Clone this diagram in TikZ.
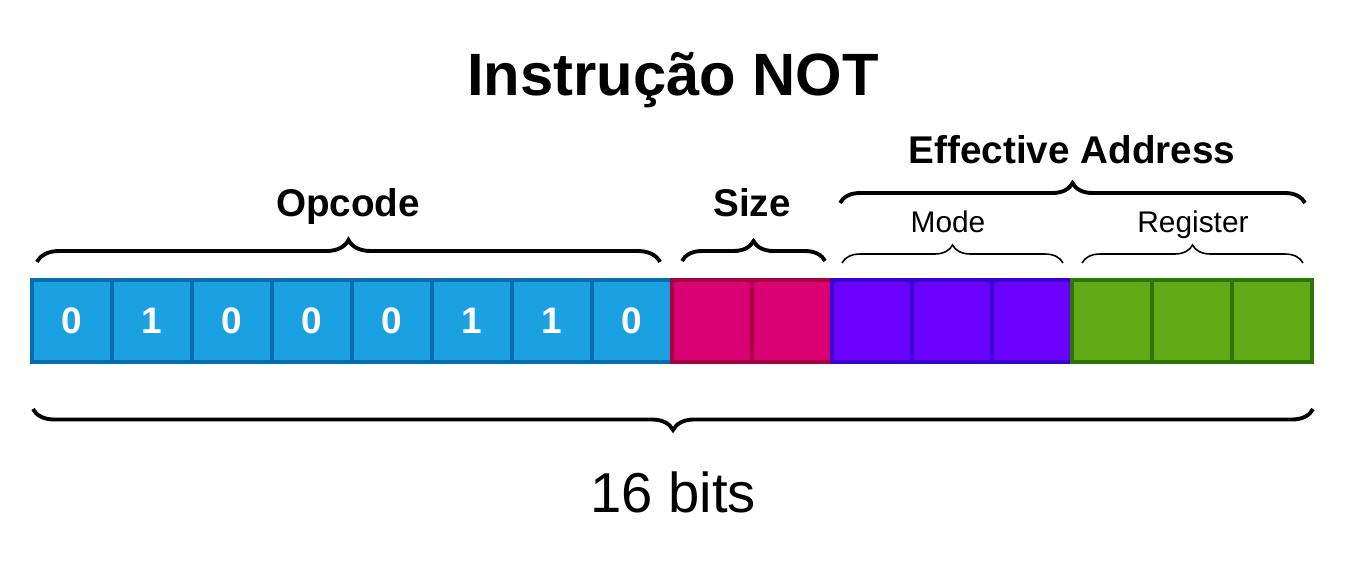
\documentclass[tikz,border=0pt]{standalone}
\usepackage{fontspec}
\setmainfont{Liberation Sans}
\usetikzlibrary{decorations.pathreplacing}

\definecolor{opfill}{HTML}{1BA1E2}
\definecolor{opline}{HTML}{006EAF}
\definecolor{szfill}{HTML}{D80073}
\definecolor{szline}{HTML}{A50040}
\definecolor{mdfill}{HTML}{6A00FF}
\definecolor{mdline}{HTML}{3700CC}
\definecolor{rgfill}{HTML}{60A917}
\definecolor{rgline}{HTML}{2D7600}

\tikzset{
  bitbox/.style={draw, line width=2.2pt, minimum width=1.6cm, minimum height=1.64cm,
    inner sep=0pt, font=\fontsize{21}{25}\selectfont\bfseries, text=white},
  bigbrace/.style={decorate, decoration={brace, amplitude=#1}, line width=2.2pt},
  smallbrace/.style={decorate, decoration={brace, amplitude=#1}, line width=0.9pt},
  fieldlabel/.style={anchor=base, font=\fontsize{22}{26}\selectfont\bfseries},
  sublabel/.style={anchor=base, font=\fontsize{17}{20}\selectfont}
}

\begin{document}
\begin{tikzpicture}[x=0.02cm,y=-0.02cm]
\useasboundingbox (0,0) rectangle (1352,569);

\node[anchor=base, font=\fontsize{34}{40}\selectfont\bfseries] (title) at (673,95) {Instrução NOT};

% the 16 bits
\foreach \i/\v in {0/0,1/1,2/0,3/0,4/0,5/1,6/1,7/0}
  \node[bitbox, fill=opfill, draw=opline] (bit\i) at (72+80*\i,321) {\v};
\foreach \i in {8,9}
  \node[bitbox, fill=szfill, draw=szline] (bit\i) at (72+80*\i,321) {};
\foreach \i in {10,11,12}
  \node[bitbox, fill=mdfill, draw=mdline] (bit\i) at (72+80*\i,321) {};
\foreach \i in {13,14,15}
  \node[bitbox, fill=rgfill, draw=rgline] (bit\i) at (72+80*\i,321) {};

% brace ends
\coordinate (opL) at (37,262);   \coordinate (opR) at (660,262);
\coordinate (szL) at (682,261);  \coordinate (szR) at (825,261);
\coordinate (mdL) at (842,263);  \coordinate (mdR) at (1063,263);
\coordinate (rgL) at (1082,263); \coordinate (rgR) at (1303,263);
\coordinate (eaL) at (840,203);  \coordinate (eaR) at (1305,203);
\coordinate (allL) at (33,409);  \coordinate (allR) at (1313,409);

\draw[bigbrace=0.44cm] (opL) -- (opR);
\draw[bigbrace=0.4cm] (szL) -- (szR);
\draw[smallbrace=0.36cm] (mdL) -- (mdR);
\draw[smallbrace=0.36cm] (rgL) -- (rgR);
\draw[bigbrace=0.4cm] (eaL) -- (eaR);
\draw[bigbrace=0.42cm] (allR) -- (allL);

\node[fieldlabel] (opcode) at (348,216) {Opcode};
\node[fieldlabel] (size) at (752,216) {Size};
\node[fieldlabel] (ea) at (1072,163) {Effective Address};
\node[sublabel] (mode) at (948,232) {Mode};
\node[sublabel] (reg) at (1193,232) {Register};
\node[anchor=base, font=\fontsize{32}{38}\selectfont] (bits) at (673,512) {16 bits};
\end{tikzpicture}
\end{document}
